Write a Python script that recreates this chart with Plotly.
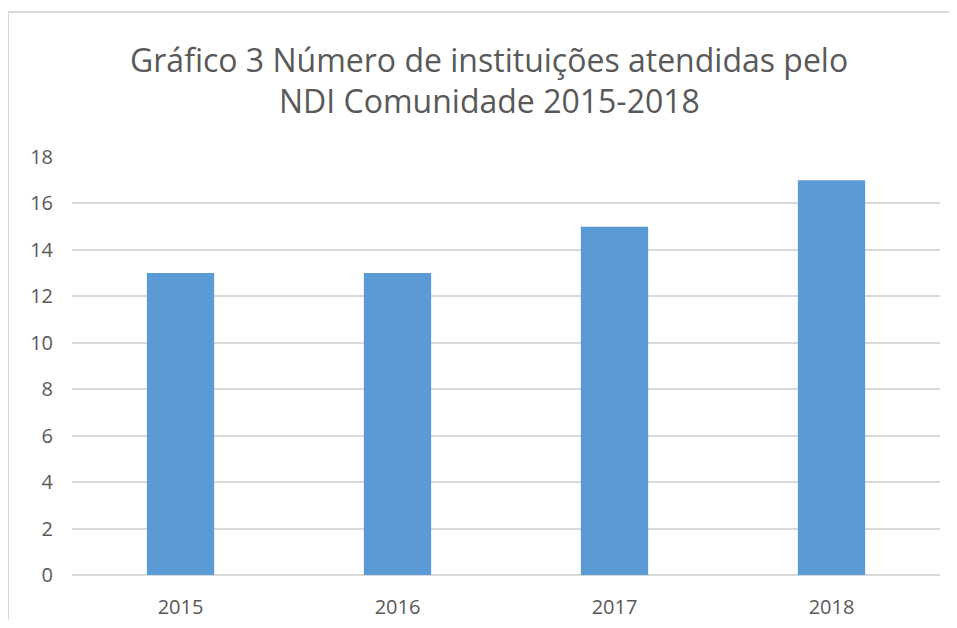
import plotly.graph_objects as go

years = ["2015", "2016", "2017", "2018"]
values = [13, 13, 15, 17]
y_ticks = [0, 2, 4, 6, 8, 10, 12, 14, 16, 18]
title_lines = ["Gráfico 3 Número de instituições atendidas pelo", "NDI Comunidade 2015-2018"]

# page renders the figure with an 8px body margin; keep it inside the window
W, H = 941, 612
L, R, T, B = 64, 9, 149, 45

fig = go.Figure()
fig.add_trace(go.Bar(
    x=years, y=values,
    marker=dict(color="#5B9BD5", line=dict(width=0)),
    width=0.31,
))

pw = W - L - R
ph = H - T - B

def px_x(x):
    return (x - L) / pw

def px_y(y):
    return (H - B - y) / ph

annotations = []
for text, yc in zip(title_lines, [51, 93]):
    annotations.append(dict(
        text=text, showarrow=False,
        xref="paper", yref="paper",
        x=px_x(481), y=px_y(yc), xanchor="center", yanchor="middle",
        font=dict(family="Open Sans", size=32, color="#595959"),
    ))

fig.update_layout(
    width=W, height=H,
    margin=dict(l=L, r=R, t=T, b=B, autoexpand=False),
    paper_bgcolor="white", plot_bgcolor="white",
    showlegend=False,
    font=dict(family="Open Sans", color="#595959"),
    annotations=annotations,
    xaxis=dict(
        showgrid=False, showline=False, ticks="", automargin=False,
        tickfont=dict(size=20, color="#595959"),
        ticklabelstandoff=18,
    ),
    yaxis=dict(
        range=[0, 18], tickvals=y_ticks, automargin=False,
        showgrid=True, gridcolor="#D9D9D9", gridwidth=1.5,
        zeroline=True, zerolinecolor="#D9D9D9", zerolinewidth=1.5,
        showline=False, ticks="",
        tickfont=dict(size=20, color="#595959"),
        ticklabelstandoff=18,
    ),
    shapes=[
        dict(type="line", xref="paper", yref="paper",
             x0=px_x(0), x1=px_x(W), y0=px_y(4), y1=px_y(4),
             line=dict(color="#D9D9D9", width=2)),
        dict(type="line", xref="paper", yref="paper",
             x0=px_x(0), x1=px_x(0), y0=px_y(4), y1=px_y(H),
             line=dict(color="#D9D9D9", width=2)),
    ],
)

fig.write_html("out.html")
